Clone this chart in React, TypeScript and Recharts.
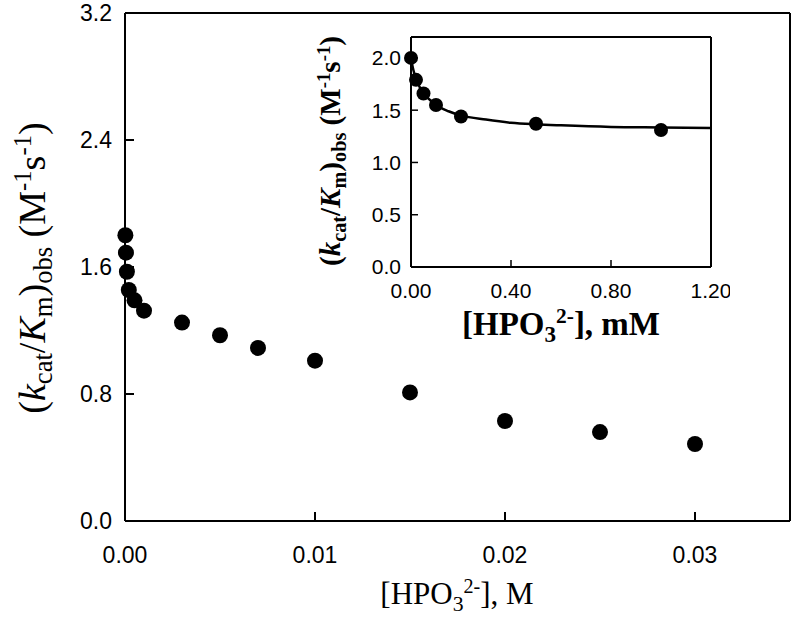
import React from 'react';
import {ComposedChart, Line, Scatter, ScatterChart, XAxis, YAxis} from 'recharts';

// main panel: [HPO3 2-] in M vs (kcat/Km)obs
const mainConc = [0.00002, 0.00005, 0.0001, 0.0002, 0.0005, 0.001, 0.003, 0.005, 0.007, 0.01, 0.015, 0.02, 0.025, 0.03];
const mainRate = [1.80, 1.69, 1.57, 1.455, 1.39, 1.325, 1.25, 1.17, 1.09, 1.01, 0.81, 0.63, 0.56, 0.485];
const mainXTicks = [0, 0.01, 0.02, 0.03];
const mainYTicks = [0, 0.8, 1.6, 2.4, 3.2];

// inset: [HPO3 2-] in mM
const insetConc = [0, 0.02, 0.05, 0.1, 0.2, 0.5, 1.0];
const insetRate = [2.0, 1.79, 1.66, 1.55, 1.44, 1.37, 1.31];
// fitted curve
const fitConc = [0, 0.01, 0.02, 0.035, 0.05, 0.075, 0.1, 0.15, 0.2, 0.3, 0.4, 0.5, 0.6, 0.8, 1.0, 1.2];
const fitRate = [1.99, 1.88, 1.80, 1.72, 1.66, 1.60, 1.55, 1.49, 1.45, 1.41, 1.38, 1.365, 1.355, 1.34, 1.335, 1.33];
const insetXTicks = [0, 0.4, 0.8, 1.2];
const insetYTicks = [0, 0.5, 1.0, 1.5, 2.0];

const mainData = mainConc.map((x, i) => ({x, y: mainRate[i]}));
const insetData = insetConc.map((x, i) => ({x, y: insetRate[i]}));
const fitData = fitConc.map((x, i) => ({x, y: fitRate[i]}));

const sans = '"Liberation Sans", Arial, sans-serif';
const serif = '"Liberation Serif", "Times New Roman", serif';
const axisLine = {stroke: '#000', strokeWidth: 2};

const sub: React.CSSProperties = {fontSize: '70%', verticalAlign: '-0.3em'};
const sup: React.CSSProperties = {fontSize: '65%', verticalAlign: '0.55em'};

const RateLabel = () => (
  <>
    (<i>k</i><span style={sub}>cat</span>/<i>K</i><span style={sub}>m</span>)<span style={sub}>obs</span>
    {' '}(M<span style={sup}>-1</span>s<span style={sup}>-1</span>)
  </>
);

const App = () => {
  return (
    <div style={{position: 'absolute', left: 0, top: 0, width: 792, height: 619, background: '#fff'}}>
      <ScatterChart width={792} height={619} margin={{top: 12, right: 1, bottom: 38, left: 65}}>
        <XAxis
          dataKey="x"
          type="number"
          domain={[0, 0.035]}
          ticks={mainXTicks}
          tickFormatter={(v: number) => v.toFixed(2)}
          height={60}
          tickSize={-9}
          tickMargin={35}
          axisLine={axisLine}
          tickLine={{stroke: '#000', strokeWidth: 2}}
          tick={{fill: '#000', fontSize: 23, fontFamily: sans}}
        />
        <XAxis xAxisId="top" orientation="top" type="number" domain={[0, 0.035]} height={1}
               tick={false} tickLine={false} axisLine={axisLine}/>
        <YAxis
          dataKey="y"
          type="number"
          domain={[0, 3.2]}
          ticks={mainYTicks}
          tickFormatter={(v: number) => v.toFixed(1)}
          width={60}
          tickSize={-9}
          tickMargin={22}
          axisLine={axisLine}
          tickLine={{stroke: '#000', strokeWidth: 2}}
          tick={{fill: '#000', fontSize: 23, fontFamily: sans}}
        />
        <YAxis yAxisId="right" orientation="right" type="number" domain={[0, 3.2]} width={1}
               tick={false} tickLine={false} axisLine={axisLine}/>
        <Scatter data={mainData} fill="#000" isAnimationActive={false}
                 shape={(p: any) => <circle cx={p.cx} cy={p.cy} r={8} fill="#000"/>}/>
      </ScatterChart>

      <div style={{position: 'absolute', left: 340, top: 20, width: 390, height: 340}}>
        <ComposedChart width={390} height={340} margin={{top: 16, right: 18, bottom: 43, left: 21}}>
          <XAxis
            dataKey="x"
            type="number"
            domain={[0, 1.2]}
            ticks={insetXTicks}
            tickFormatter={(v: number) => v.toFixed(2)}
            height={50}
            tickSize={-7}
            tickMargin={23}
            axisLine={axisLine}
            tickLine={{stroke: '#000', strokeWidth: 1.5}}
            tick={{fill: '#000', fontSize: 21, fontFamily: sans}}
          />
          <XAxis xAxisId="top" orientation="top" type="number" domain={[0, 1.2]} height={1}
                 tick={false} tickLine={false} axisLine={axisLine}/>
          <YAxis
            dataKey="y"
            type="number"
            domain={[0, 2.2]}
            ticks={insetYTicks}
            tickFormatter={(v: number) => v.toFixed(1)}
            width={50}
            tickSize={-7}
            tickMargin={17}
            axisLine={axisLine}
            tickLine={{stroke: '#000', strokeWidth: 1.5}}
            tick={{fill: '#000', fontSize: 21, fontFamily: sans}}
          />
          <YAxis yAxisId="right" orientation="right" type="number" domain={[0, 2.2]} width={1}
                 tick={false} tickLine={false} axisLine={axisLine}/>
          <Line data={fitData} dataKey="y" type="monotone" stroke="#000" strokeWidth={2.5}
                dot={false} activeDot={false} isAnimationActive={false}/>
          <Scatter data={insetData} dataKey="y" fill="#000" isAnimationActive={false}
                   shape={(p: any) => <circle cx={p.cx} cy={p.cy} r={7} fill="#000"/>}/>
        </ComposedChart>
      </div>

      {/* axis titles */}
      <div style={{position: 'absolute', left: 457, top: 596, transform: 'translate(-50%, -50%)',
        fontFamily: serif, fontSize: 31, whiteSpace: 'nowrap', lineHeight: 1}}>
        [HPO<span style={sub}>3</span><span style={sup}>2-</span>], M
      </div>
      <div style={{position: 'absolute', left: 34, top: 268, transform: 'translate(-50%, -50%) rotate(-90deg)',
        fontFamily: serif, fontSize: 38, whiteSpace: 'nowrap', lineHeight: 1}}>
        <RateLabel/>
      </div>
      <div style={{position: 'absolute', left: 561, top: 326, transform: 'translate(-50%, -50%)',
        fontFamily: serif, fontSize: 33, fontWeight: 'bold', whiteSpace: 'nowrap', lineHeight: 1}}>
        [HPO<span style={sub}>3</span><span style={sup}>2-</span>], mM
      </div>
      <div style={{position: 'absolute', left: 332, top: 151, transform: 'translate(-50%, -50%) rotate(-90deg)',
        fontFamily: serif, fontSize: 29, fontWeight: 'bold', whiteSpace: 'nowrap', lineHeight: 1}}>
        <RateLabel/>
      </div>
    </div>
  );
};

export default App;
